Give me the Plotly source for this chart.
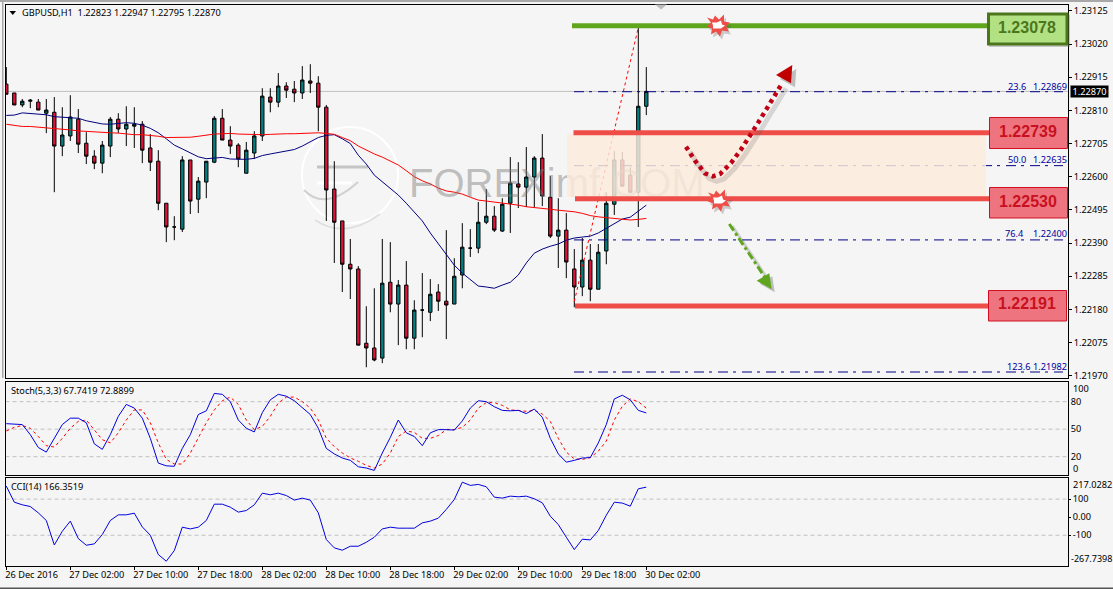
import plotly.graph_objects as go

W, H = 1113, 589

# GBPUSD H1 candles, oldest first
open_ = [1.22893,1.22865,1.22827,1.22839,1.22836,1.22801,1.22804,1.22697,1.22729,1.22782,1.22706,1.22665,1.22643,1.22697,1.22782,1.22751,1.22760,1.22766,1.22691,1.22649,
         1.22516,1.22441,1.22434,1.22653,1.22529,1.22583,1.22646,1.22785,1.22716,1.22700,1.22611,1.22675,1.22729,1.22852,1.22836,1.22887,1.22877,1.22865,1.22903,1.22896,
         1.22820,1.22561,1.22460,1.22323,1.22308,1.22073,1.22058,1.22026,1.22266,1.22197,1.22257,1.22089,1.22178,1.22171,1.22235,1.22206,1.22197,1.22289,1.22374,1.22374,
         1.22456,1.22475,1.22428,1.22516,1.22577,1.22567,1.22599,1.22659,1.22535,1.22412,1.22431,1.22308,1.22251,1.22336,1.22244,1.22365,1.22513,1.22653,1.22605,1.22551,1.22823]
high = [1.22947,1.22865,1.22846,1.22846,1.22846,1.22846,1.22852,1.22820,1.22858,1.22814,1.22741,1.22684,1.22713,1.22789,1.22801,1.22823,1.22820,1.22776,1.22735,1.22684,
        1.22516,1.22475,1.22665,1.22653,1.22599,1.22649,1.22792,1.22814,1.22760,1.22706,1.22710,1.22744,1.22880,1.22880,1.22928,1.22899,1.22903,1.22950,1.22956,1.22918,
        1.22827,1.22649,1.22460,1.22403,1.22317,1.22190,1.22247,1.22403,1.22393,1.22273,1.22333,1.22209,1.22295,1.22276,1.22260,1.22431,1.22342,1.22453,1.22434,1.22520,
        1.22561,1.22507,1.22532,1.22662,1.22646,1.22694,1.22665,1.22735,1.22602,1.22532,1.22485,1.22371,1.22406,1.22387,1.22387,1.22551,1.22681,1.22678,1.22630,1.23072,1.22947]
low = [1.22861,1.22827,1.22820,1.22817,1.22811,1.22738,1.22551,1.22665,1.22713,1.22675,1.22640,1.22624,1.22611,1.22662,1.22738,1.22697,1.22691,1.22643,1.22618,1.22494,
       1.22393,1.22399,1.22425,1.22482,1.22485,1.22532,1.22643,1.22716,1.22672,1.22630,1.22611,1.22656,1.22713,1.22804,1.22820,1.22849,1.22836,1.22846,1.22865,1.22744,
       1.22460,1.22327,1.22235,1.22213,1.22067,1.21997,1.22016,1.22010,1.22171,1.22067,1.22054,1.22054,1.22092,1.22143,1.22175,1.22086,1.22197,1.22247,1.22346,1.22358,
       1.22450,1.22425,1.22425,1.22422,1.22501,1.22504,1.22504,1.22507,1.22406,1.22311,1.22279,1.22187,1.22222,1.22206,1.22244,1.22323,1.22479,1.22570,1.22548,1.22441,1.22795]
close = [1.22861,1.22827,1.22839,1.22842,1.22811,1.22811,1.22697,1.22732,1.22789,1.22703,1.22665,1.22643,1.22700,1.22782,1.22751,1.22766,1.22766,1.22684,1.22646,1.22516,
         1.22441,1.22441,1.22653,1.22523,1.22586,1.22649,1.22785,1.22716,1.22697,1.22656,1.22684,1.22729,1.22855,1.22836,1.22887,1.22874,1.22865,1.22906,1.22896,1.22820,
         1.22558,1.22456,1.22323,1.22308,1.22067,1.22058,1.22020,1.22263,1.22197,1.22257,1.22089,1.22178,1.22178,1.22228,1.22206,1.22194,1.22285,1.22377,1.22374,1.22456,
         1.22475,1.22431,1.22513,1.22580,1.22567,1.22599,1.22659,1.22539,1.22412,1.22431,1.22330,1.22251,1.22336,1.22244,1.22361,1.22516,1.22653,1.22570,1.22551,1.22823,1.22870]

# Moving averages
ma_fast = [1.22794,1.22795,1.22802,1.22800,1.22799,1.22796,1.22790,1.22788,1.22788,1.22785,1.22777,1.22772,1.22767,1.22766,1.22769,1.22771,1.22769,1.22763,1.22753,1.22739,
           1.22720,1.22700,1.22688,1.22676,1.22663,1.22657,1.22659,1.22661,1.22656,1.22655,1.22655,1.22658,1.22667,1.22672,1.22676,1.22680,1.22686,1.22697,1.22710,1.22724,
           1.22731,1.22733,1.22720,1.22705,1.22668,1.22640,1.22605,1.22583,1.22564,1.22542,1.22516,1.22488,1.22460,1.22422,1.22387,1.22352,1.22320,1.22295,1.22273,1.22254,
           1.22251,1.22247,1.22257,1.22266,1.22289,1.22327,1.22358,1.22371,1.22380,1.22387,1.22399,1.22406,1.22409,1.22412,1.22422,1.22437,1.22453,1.22466,1.22472,1.22491,1.22510]
ma_slow = [1.22766,1.22762,1.22759,1.22759,1.22757,1.22756,1.22754,1.22750,1.22748,1.22745,1.22743,1.22741,1.22739,1.22739,1.22738,1.22735,1.22733,1.22733,1.22731,1.22728,
           1.22724,1.22724,1.22724,1.22725,1.22728,1.22732,1.22735,1.22736,1.22737,1.22735,1.22734,1.22734,1.22733,1.22734,1.22736,1.22736,1.22736,1.22737,1.22739,1.22739,
           1.22737,1.22734,1.22724,1.22714,1.22697,1.22684,1.22672,1.22662,1.22650,1.22637,1.22619,1.22600,1.22587,1.22577,1.22564,1.22555,1.22551,1.22545,1.22535,1.22526,
           1.22523,1.22520,1.22516,1.22513,1.22510,1.22505,1.22503,1.22501,1.22497,1.22494,1.22492,1.22489,1.22484,1.22477,1.22473,1.22470,1.22468,1.22466,1.22463,1.22465,1.22468]

# Stochastic oscillator
stoch_main = [56,55.6,55,44,30,25,40,55,62,62,57,34,28,44,64,77,73,62,40,13,10,9.5,29,44,66,70,89,88,80,60,51,47,68,82,88,86,81,74,66,51,29,23,
              18.5,16,9,7.6,5,24,41,60,46,42,32,46,49.5,49.5,49,59,73,81,80,74.5,70.5,70,70.5,67,72,63,40,23,14,16,18.5,19,35,55,83,87,82,70.5,67.74]
stoch_signal = [48,52,54,51,42,32,30.5,40,51,58.5,60,49.5,38.5,35,46,60,71,71,57,35,17,12,12,24,40,57,71,81,85,77,60,49.5,53,64,78.5,85,85,80,73,60,40,31,
                24,18.5,15,10.5,7.6,12,24,42,48,46.5,40,40,43,49.5,49.5,52,60,73,79,79,76,71,70.5,69.5,70.5,66.5,58.5,40,25,17.5,17,19,26,37,60,75,83,80,72.89]

# Commodity channel index
cci = [172,83,68.5,59,24,-18.5,-154,-78,-22,-118.5,-155.5,-148,-96,-18.5,13,13,22,-54,-100,-207,-244,-185,-55.5,-65,-55.5,-18.5,72,72,55.5,28,37,68.5,133,124,133,120,94.5,105.5,94.5,24,-124,-170,
       -183,-161,-161,-139,-111,-65,-55.5,-61,-61,-61,-31.5,-22,-5.5,43,98,194,176,181.5,168.5,111,105.5,116.5,113,116.5,102,79.6,5.5,-41,-111,-179.6,-122,-126,-74,11,83,78,61,157,166.35]

bars = list(range(len(close)))

# Axis ticks
price_ticks = [1.23125,1.23020,1.22915,1.22810,1.22705,1.22600,1.22495,1.22390,1.22285,1.22180,1.22075,1.21970]
time_ticks = list(range(0, 81, 8))
time_labels = ["26 Dec 2016","27 Dec 02:00","27 Dec 10:00","27 Dec 18:00","28 Dec 02:00","28 Dec 10:00",
               "28 Dec 18:00","29 Dec 02:00","29 Dec 10:00","29 Dec 18:00","30 Dec 02:00"]

# Fibonacci retracement levels and the swing they are drawn from
fib_ratio = ["23.6","50.0","76.4","123.6"]
fib_price = [1.22869,1.22635,1.22400,1.21982]
swing_bars = [71, 79]
swing_prices = [1.22205, 1.23072]

# Trade levels
resistance = 1.23078
supports = [1.22739,1.22530,1.22191]
last_price = 1.22870

FONT = "Noto Sans"
TXT = 9.2
BLACK = "#000000"
BG = "#F5F5F5"


def bar_at(px):
    return (px - 6.3) / 8


def fx(px):
    return px / W


def fy(py):
    return 1 - py / H


def poly(points, dx=0, dy=0, closed=True):
    body = " L ".join(f"{fx(x + dx):.5f},{fy(y + dy):.5f}" for x, y in points)
    return "M " + body + (" Z" if closed else "")


def pbox(x0, y0, x1, y1, **kw):
    return dict(type="rect", xref="paper", yref="paper", x0=fx(x0), x1=fx(x1), y0=fy(y0), y1=fy(y1), layer="above", **kw)


def ppath(path, **kw):
    return dict(type="path", xref="paper", yref="paper", path=path, layer="above", **kw)


fig = go.Figure()

fig.add_trace(go.Candlestick(
    x=bars, open=open_, high=high, low=low, close=close, xaxis="x", yaxis="y",
    increasing=dict(fillcolor="#007F80", line=dict(color=BLACK, width=1)),
    decreasing=dict(fillcolor="#DC143C", line=dict(color=BLACK, width=1)),
    whiskerwidth=0, showlegend=False, hoverinfo="skip",
))
fig.add_trace(go.Scatter(x=bars, y=ma_fast, mode="lines", line=dict(color="#000080", width=1), xaxis="x", yaxis="y", hoverinfo="skip"))
fig.add_trace(go.Scatter(x=bars, y=ma_slow, mode="lines", line=dict(color="#FF0000", width=1), xaxis="x", yaxis="y", hoverinfo="skip"))

# Fibonacci grid and the swing line
for p in fib_price:
    fig.add_trace(go.Scatter(x=[bar_at(574), bar_at(1063)], y=[p, p], mode="lines",
                             line=dict(color="#000080", width=1, dash="10px,5px,3px,6px"),
                             xaxis="x", yaxis="y", hoverinfo="skip"))
fig.add_trace(go.Scatter(x=swing_bars, y=swing_prices, mode="lines",
                         line=dict(color="#FF0000", width=1, dash="3px,3px"),
                         xaxis="x", yaxis="y", hoverinfo="skip"))

# Broker watermark across the chart
fig.add_trace(go.Scatter(x=[bar_at(409)], y=[1.22567], mode="text", text=["FOREXimf.COM"], textposition="middle right",
                         textfont=dict(family="Liberation Sans", size=40, color="rgba(120,120,120,0.45)"),
                         xaxis="x", yaxis="y", hoverinfo="skip"))

# Stochastic panel
fig.add_trace(go.Scatter(x=bars, y=stoch_signal, mode="lines", line=dict(color="#FF0000", width=1, dash="3px,3px"), xaxis="x2", yaxis="y2", hoverinfo="skip"))
fig.add_trace(go.Scatter(x=bars, y=stoch_main, mode="lines", line=dict(color="#0000E0", width=1), xaxis="x2", yaxis="y2", hoverinfo="skip"))

# CCI panel
fig.add_trace(go.Scatter(x=bars, y=cci, mode="lines", line=dict(color="#0000E0", width=1), xaxis="x3", yaxis="y3", hoverinfo="skip"))

shapes = []

# Logo ring behind the candles
shapes += [
    dict(type="circle", xref="paper", yref="paper", x0=fx(302), x1=fx(398), y0=fy(223), y1=fy(127), line=dict(color="#FFFFFF", width=2), layer="below"),
    dict(type="line", xref="paper", yref="paper", x0=fx(317), x1=fx(368), y0=fy(167), y1=fy(167), line=dict(color="#C4C4C4", width=3), layer="below"),
    dict(type="line", xref="paper", yref="paper", x0=fx(317), x1=fx(352), y0=fy(183), y1=fy(183), line=dict(color="#FFFFFF", width=3), layer="below"),
    dict(type="path", xref="paper", yref="paper", layer="below", line=dict(color="#D0D0D0", width=2),
         path=f"M {fx(304):.5f},{fy(190):.5f} Q {fx(325):.5f},{fy(212):.5f} {fx(358):.5f},{fy(182):.5f}"),
    dict(type="path", xref="paper", yref="paper", layer="below", line=dict(color="#E0E0E0", width=2),
         path=f"M {fx(315):.5f},{fy(220):.5f} Q {fx(345):.5f},{fy(240):.5f} {fx(380):.5f},{fy(214):.5f}"),
]

# Oscillator levels
for lvl in (80, 50, 20):
    shapes.append(dict(type="line", xref="x2 domain", yref="y2", x0=0, x1=1, y0=lvl, y1=lvl, line=dict(color="#C0C0C0", width=1, dash="4px,3px"), layer="below"))
for lvl in (100, -100):
    shapes.append(dict(type="line", xref="x3 domain", yref="y3", x0=0, x1=1, y0=lvl, y1=lvl, line=dict(color="#C0C0C0", width=1, dash="4px,3px"), layer="below"))

# Current bid line
shapes.append(dict(type="line", xref="x domain", yref="y", x0=0, x1=1, y0=last_price, y1=last_price, line=dict(color="#C0C0C0", width=1), layer="below"))

# Reversal zone, then the level lines on top of it
shapes.append(pbox(567, 134, 986, 197, fillcolor="#FDEBDD", opacity=0.84, line=dict(width=0)))

shapes.append(dict(type="line", xref="x", yref="y", x0=bar_at(572), x1=bar_at(988), y0=resistance, y1=resistance, line=dict(color="#5FA61E", width=5), layer="above"))
for p, start in zip(supports, (573.5, 575, 575)):
    shapes.append(dict(type="line", xref="x", yref="y", x0=bar_at(start), x1=bar_at(990), y0=p, y1=p, line=dict(color="#EE4D48", width=5), layer="above"))

# Bursts marking where the levels were touched
burst_out = [(-11,-8),(-5,-6),(-3,-10),(1,-6),(6,-11),(6,-4),(12,-3),(8,1),(11,6),(4,5),(2,11),(-2,6),(-7,9),(-6,3),(-11,1),(-7,-3)]
burst_in = [(-6,-3),(-1,-3),(3,-5),(4,-1),(7,0),(3,3),(-1,3),(-5,3),(-5,0)]
for cx, cy in ((718, 25.5), (719, 200.5)):
    shapes.append(ppath(poly([(cx + a, cy + b) for a, b in burst_out], 2, 3), fillcolor="rgba(90,90,90,0.28)", line=dict(width=0)))
    shapes.append(ppath(poly([(cx + a, cy + b) for a, b in burst_out]), fillcolor="#EE4D48", line=dict(width=0)))
    shapes.append(ppath(poly([(cx + a, cy + b) for a, b in burst_in]), fillcolor="#FFFFFF", line=dict(width=0)))

# Bullish scenario arrow
up_curve = [(686,146.7),(695,160.7),(705,173.3),(712.7,176.3),(720,174),(731,163),(740.7,150),(749.3,136.7),(758,123),(766.3,109.3),(774.7,95.7),(782,83.3)]
up_head = [(792.3,65),(776,75),(791,83.3)]
shapes.append(ppath(poly(up_curve, 4, 5, closed=False), line=dict(color="rgba(90,90,90,0.2)", width=5)))
shapes.append(ppath(poly(up_head, 4, 4), fillcolor="rgba(90,90,90,0.35)", line=dict(width=0)))
shapes.append(ppath(poly(up_curve, closed=False), line=dict(color="#C00014", width=4.5, dash="4px,4px")))
shapes.append(ppath(poly(up_head), fillcolor="#C00000", line=dict(width=0)))

# Bearish scenario arrow
down_line = [(729.3,224),(766,279)]
down_head = [(771.7,289.3),(756.7,280.7),(769.3,273.3)]
shapes.append(ppath(poly(down_line, 3, 2, closed=False), line=dict(color="rgba(90,90,90,0.25)", width=3)))
shapes.append(ppath(poly(down_head, 3, 3), fillcolor="rgba(90,90,90,0.35)", line=dict(width=0)))
shapes.append(ppath(poly(down_line, closed=False), line=dict(color="#5FA61E", width=3, dash="8px,3px,3px,3px")))
shapes.append(ppath(poly(down_head), fillcolor="#5FA61E", line=dict(width=0)))

# Level label boxes
shapes.append(pbox(989, 15, 1070, 47, fillcolor="rgba(90,90,90,0.3)", line=dict(width=0)))
shapes.append(pbox(988.5, 14, 1067, 44, fillcolor="#B2E184", line=dict(color="#4C761C", width=3)))
for y0, y1, x0, x1 in ((117.5, 148.5, 989.5, 1067.5), (187.5, 218, 989.5, 1067.5), (290.5, 321, 988.5, 1066.5)):
    shapes.append(pbox(x0, y0, x1, y1, fillcolor="#EE7580", line=dict(color="#D01020", width=1)))

# Terminal chrome
shapes += [
    pbox(0, 0, W, 2, fillcolor="#A8A8A8", line=dict(width=0)),
    pbox(2, 0, 3.5, 378, fillcolor="#A8A8A8", line=dict(width=0)),
    pbox(0, 587.5, W, 589, fillcolor="#555555", line=dict(width=0)),
    ppath(poly([(655,4.5),(667,4.5),(661,9.5)]), fillcolor="#BDBDBD", line=dict(width=0)),
    ppath(poly([(9.5,11),(16,11),(12.8,15)]), fillcolor=BLACK, line=dict(width=0)),
]

annotations = []


def label(x, y, text, size=TXT, color=BLACK, anchor="left", family=FONT, **kw):
    annotations.append(dict(xref="paper", yref="paper", x=fx(x), y=fy(y), text=text, showarrow=False, xanchor=anchor, yanchor="middle",
                            font=dict(family=family, size=size, color=color), borderpad=0, **kw))


label(21, 12.5, "GBPUSD,H1&nbsp;&nbsp;1.22823 1.22947 1.22795 1.22870")
label(10, 390.5, "Stoch(5,3,3) 67.7419 72.8899")
label(10, 486.7, "CCI(14) 166.3519")

# Fibonacci captions
for ratio, price, y, rx in zip(fib_ratio, fib_price, (86, 159.5, 233.5, 366.5), (1007, 1007, 1004, 1006)):
    label(rx, y, ratio, color="#0000A0")
    label(1067.5, y, f"{price:.5f}", color="#0000A0", anchor="right")

# Level captions
label(1027, 27.5, f"<b>{resistance:.5f}</b>", size=16, color="#4C761C", anchor="center", family="Liberation Sans")
for p, y, x, col in zip(supports, (131, 201, 303.5), (1028, 1028, 1027), ("#C8101E",) * 3):
    label(x, y, f"<b>{p:.5f}</b>", size=16, color=col, anchor="center", family="Liberation Sans")

# Bid price tag
label(1069.5, 91.3, f"{last_price:.5f}", color="#FFFFFF", bgcolor=BLACK, width=37, height=11)

# Oscillator scale labels that sit inside the panel edge
label(1072, 388, "100")
label(1072, 468.7, "0")
label(1072, 484.7, "217.0282")
label(1112.5, 558.7, "-267.7398", size=9, anchor="right")


def tick_font():
    return dict(family=FONT, size=TXT, color=BLACK)


def frame(**kw):
    base = dict(showgrid=False, zeroline=False, showline=True, linecolor=BLACK, linewidth=1, mirror=True, automargin=False)
    base.update(kw)
    return base


x_span = [bar_at(5.5), bar_at(1068)]
x_dom = [fx(5.5), fx(1068)]

fig.update_layout(
    width=W, height=H, autosize=False, margin=dict(l=0, r=0, t=0, b=0, autoexpand=False), showlegend=False,
    paper_bgcolor=BG, plot_bgcolor=BG, boxgap=0.4, hovermode=False,
    xaxis=frame(domain=x_dom, range=x_span, anchor="y", showticklabels=False, rangeslider=dict(visible=False), ticks=""),
    yaxis=frame(domain=[fy(378), fy(4.5)], range=[1.21963, 1.23145], side="right", anchor="x",
                tickvals=price_ticks, ticktext=[f"{t:.5f}" for t in price_ticks], ticks="outside", ticklen=3, tickcolor=BLACK, tickfont=tick_font()),
    xaxis2=frame(domain=x_dom, range=x_span, anchor="y2", showticklabels=False, ticks=""),
    yaxis2=frame(domain=[fy(475), fy(381.5)], range=[0, 102], side="right", anchor="x2",
                 tickvals=[80, 50, 20], ticktext=["80", "50", "20"], ticks="", tickfont=tick_font()),
    xaxis3=frame(domain=x_dom, range=x_span, anchor="y3", tickvals=time_ticks, ticktext=time_labels, ticks="outside", ticklen=3,
                 tickcolor=BLACK, tickfont=tick_font(), ticklabelposition="outside right", ticklabelshift=-2, tickangle=0),
    yaxis3=frame(domain=[fy(565.5), fy(478)], range=[-267.74, 217.03], side="right", anchor="x3",
                 tickvals=[100, 0, -100], ticktext=["100", "0.00", "-100"], ticks="outside", ticklen=2, tickcolor=BLACK, tickfont=tick_font()),
    shapes=shapes, annotations=annotations,
)

fig.write_html("out.html", config=dict(displayModeBar=False))
